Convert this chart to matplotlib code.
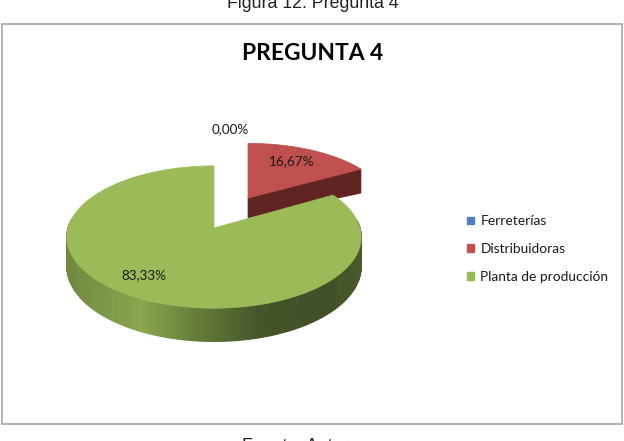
import numpy as np
import matplotlib
matplotlib.use("Agg")
import matplotlib.pyplot as plt
from matplotlib.patches import Patch, Polygon, Rectangle

categories = ['Ferreterías', 'Distribuidoras', 'Planta de producción']
values = [0.0, 16.67, 83.33]
value_labels = ['0,00%', '16,67%', '83,33%']

colors = ['#4f81bd', '#c0504d', '#9bbb59']
side_colors = ['#3a5a80', '#622422', '#5f7530']

# pie geometry in pixels of the picture
cx, cy = 214, 228
rx, ry = 146, 70
persp = 0.127
depth = 29
explode = [(0, 0, 1, 1), (34, -30, 0.95, 0.88), (0, 0, 1, 1)]
label_pos = [(230, 129), (292, 161), (144, 275)]


def project(theta, off):
    # theta clockwise from the top, seen from above with a little perspective
    s, c = np.sin(theta), np.cos(theta)
    d = 1 + persp * c
    x = cx + off[0] + off[2] * rx * s / d
    y = cy + off[1] - off[3] * ry * c / d
    return x, y, depth * off[3] / d


def green_shade(x):
    # side of the big slice goes from light olive to dark on the right
    xs = [67, 143, 193, 260, 327, 360]
    r = np.interp(x, xs, [0x6f, 0x8a, 0x68, 0x45, 0x41, 0x4a])
    g = np.interp(x, xs, [0x8a, 0xa6, 0x80, 0x55, 0x4f, 0x5a])
    b = np.interp(x, xs, [0x3f, 0x4f, 0x3a, 0x2a, 0x26, 0x2c])
    return (r / 255, g / 255, b / 255)


fig = plt.figure(figsize=(6.24, 4.41), dpi=100)
ax = fig.add_axes([0, 0, 1, 1])
ax.set_xlim(0, 624)
ax.set_ylim(441, 0)
ax.axis('off')

ax.add_patch(Rectangle((2, 23.5), 620, 400.5, fc='white', ec='#a6a6a6', lw=1.2))

fracs = np.array(values) / sum(values)
edges = np.concatenate([[0], np.cumsum(fracs)]) * 2 * np.pi

for i in [1, 2]:
    off = explode[i]
    th = np.linspace(edges[i], edges[i + 1], 240)
    x, y, d = project(th, off)
    ax0, ay0 = cx + off[0], cy + off[1]

    # rim, only the part facing us
    for j in range(len(th) - 1):
        if np.cos(th[j]) > 0.12:
            continue
        col = green_shade(x[j]) if i == 2 else side_colors[i]
        ax.add_patch(Polygon([(x[j], y[j]), (x[j + 1], y[j + 1]),
                              (x[j + 1], y[j + 1] + d[j + 1]), (x[j], y[j] + d[j])],
                             fc=col, ec=col, lw=0.8))

    if i == 1:
        # cut face of the pulled out slice
        ax.add_patch(Polygon([(ax0, ay0), (x[-1], y[-1]), (x[-1], y[-1] + d[-1]),
                              (ax0, ay0 + 20)], fc=side_colors[i], ec=side_colors[i], lw=0.5))

    ax.add_patch(Polygon(np.vstack([[ax0, ay0], np.column_stack([x, y])]),
                         fc=colors[i], ec=colors[i], lw=0.5))

for (lx, ly), txt in zip(label_pos, value_labels):
    ax.text(lx, ly, txt, ha='center', va='center', fontsize=9.7, family='Lato', color='#1a1a1a')

ax.text(313, 54, 'PREGUNTA 4', ha='center', va='center', fontsize=16.4,
        family='Lato', fontweight='bold', color='black')

handles = [Patch(fc=c, ec=c) for c in colors]
ax.legend(handles, categories, loc='upper left', bbox_to_anchor=(455, 203),
          bbox_transform=ax.transData, frameon=False, ncol=1,
          prop={'family': 'Lato', 'size': 9.9}, labelcolor='#1a1a1a',
          handlelength=0.5, handleheight=0.5, handletextpad=0.45, labelspacing=1.15)

ax.text(313, 3, 'Figura 12. Pregunta 4', ha='center', va='center', fontsize=12.8,
        family='Liberation Sans', color='#222222')
ax.text(295, 446.5, 'Fuente: Autor', ha='center', va='center', fontsize=12.8,
        family='Liberation Sans', color='#222222')

fig.savefig('out.png', dpi=100)
